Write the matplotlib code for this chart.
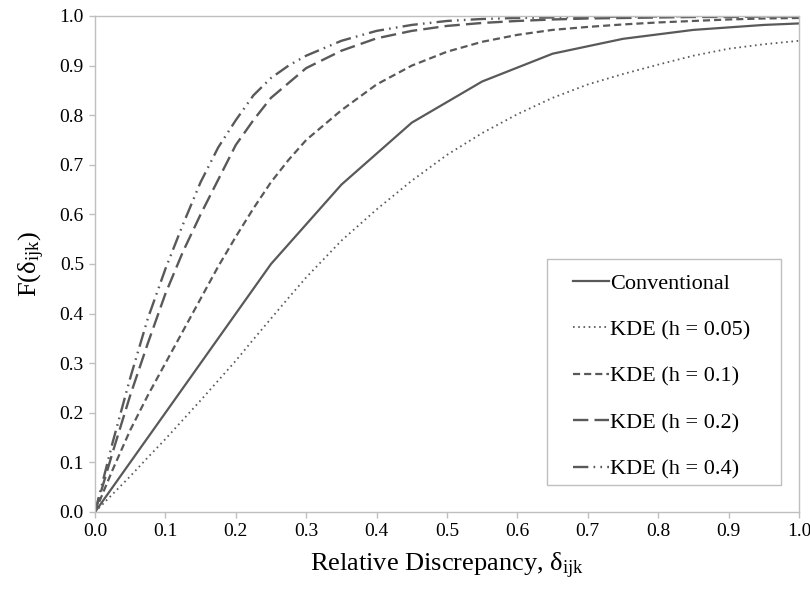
import matplotlib
matplotlib.use("Agg")
import matplotlib.pyplot as plt
from matplotlib.patches import Rectangle

plt.rcParams['font.family'] = ['Liberation Serif', 'DejaVu Serif']
plt.rcParams['mathtext.fontset'] = 'custom'
plt.rcParams['mathtext.rm'] = 'Liberation Serif'
plt.rcParams['mathtext.it'] = 'Liberation Serif:italic'

# conventional empirical CDF (bin midpoints)
x_conv = [0.0, 0.05, 0.15, 0.25, 0.35, 0.45, 0.55, 0.65, 0.75, 0.85, 0.95, 1.0]
f_conv = [0.0, 0.10, 0.30, 0.50, 0.66, 0.785, 0.868, 0.924, 0.954, 0.972, 0.982, 0.985]

# kernel density estimates on a shared grid
x_kde = [0.0, 0.025, 0.05, 0.075, 0.1, 0.125, 0.15, 0.175, 0.2, 0.225, 0.25, 0.275,
         0.3, 0.35, 0.4, 0.45, 0.5, 0.55, 0.6, 0.65, 0.7, 0.75, 0.8, 0.85, 0.9, 0.95, 1.0]
f_h005 = [0.0, 0.036, 0.072, 0.11, 0.147, 0.186, 0.225, 0.265, 0.305, 0.348, 0.39, 0.432,
          0.473, 0.547, 0.61, 0.668, 0.72, 0.764, 0.802, 0.835, 0.862, 0.883, 0.902, 0.92,
          0.934, 0.943, 0.95]
f_h01 = [0.0, 0.085, 0.165, 0.235, 0.30, 0.365, 0.43, 0.495, 0.555, 0.612, 0.665, 0.71,
         0.75, 0.81, 0.862, 0.90, 0.928, 0.948, 0.962, 0.972, 0.978, 0.983, 0.987, 0.99,
         0.993, 0.995, 0.996]
f_h02 = [0.0, 0.12, 0.235, 0.34, 0.44, 0.525, 0.60, 0.67, 0.74, 0.79, 0.835, 0.865,
         0.895, 0.93, 0.955, 0.97, 0.98, 0.986, 0.99, 0.993, 0.995, 0.996, 0.997, 0.998,
         0.998, 0.999, 0.999]
f_h04 = [0.0, 0.14, 0.27, 0.39, 0.49, 0.58, 0.665, 0.735, 0.79, 0.84, 0.875, 0.90,
         0.92, 0.95, 0.97, 0.982, 0.99, 0.994, 0.996, 0.997, 0.998, 0.999, 0.999, 1.0,
         1.0, 1.0, 1.0]

labels = ['Conventional', 'KDE (h = 0.05)', 'KDE (h = 0.1)', 'KDE (h = 0.2)', 'KDE (h = 0.4)']

fig = plt.figure(figsize=(8.1, 6.0), dpi=100)
ax = fig.add_axes([95 / 810, 1 - 512 / 600, 704 / 810, 496 / 600])

grey = '#595959'
ax.plot(x_conv, f_conv, color=grey, lw=1.6, label=labels[0])
ax.plot(x_kde, f_h005, color=grey, lw=1.3, ls=(0, (0.9, 2.0)), label=labels[1])
ax.plot(x_kde, f_h01, color=grey, lw=1.6, ls=(0, (3.2, 1.8)), label=labels[2])
ax.plot(x_kde, f_h02, color=grey, lw=1.7, ls=(0, (6.5, 2.6)), label=labels[3])
ax.plot(x_kde, f_h04, color=grey, lw=1.7,
        ls=(0, (6.5, 2.2, 0.7, 2.2, 0.7, 2.2)), label=labels[4])

ax.set_xlim(0, 1)
ax.set_ylim(0, 1)
ax.set_xticks([i / 10 for i in range(11)])
ax.set_yticks([i / 10 for i in range(11)])
ax.set_xticklabels([f'{i / 10:.1f}' for i in range(11)])
ax.set_yticklabels([f'{i / 10:.1f}' for i in range(11)])
ax.tick_params(direction='out', length=4, width=1, color='#bfbfbf',
               labelsize=14, pad=4)
for s in ax.spines.values():
    s.set_color('#bfbfbf')
    s.set_linewidth(1.0)

ax.set_xlabel(r'Relative Discrepancy, δ$_{\mathrm{ijk}}$', fontsize=19, labelpad=8)
ax.set_ylabel(r'F(δ$_{\mathrm{ijk}}$)', fontsize=19, labelpad=9)

# legend box drawn separately so the padding can be set freely
fig.patches.append(Rectangle((547 / 810, 1 - 485 / 600), 234 / 810, 226 / 600,
                             transform=fig.transFigure, facecolor='white',
                             edgecolor='#bfbfbf', lw=1.0, zorder=5))
leg = fig.legend(loc='upper left', bbox_to_anchor=(573 / 810, 1 - 273 / 600),
                 frameon=False, fontsize=16, handlelength=1.6, handletextpad=0.05,
                 labelspacing=1.17, borderpad=0, borderaxespad=0)
leg.set_zorder(6)

fig.savefig('out.png', dpi=100)
